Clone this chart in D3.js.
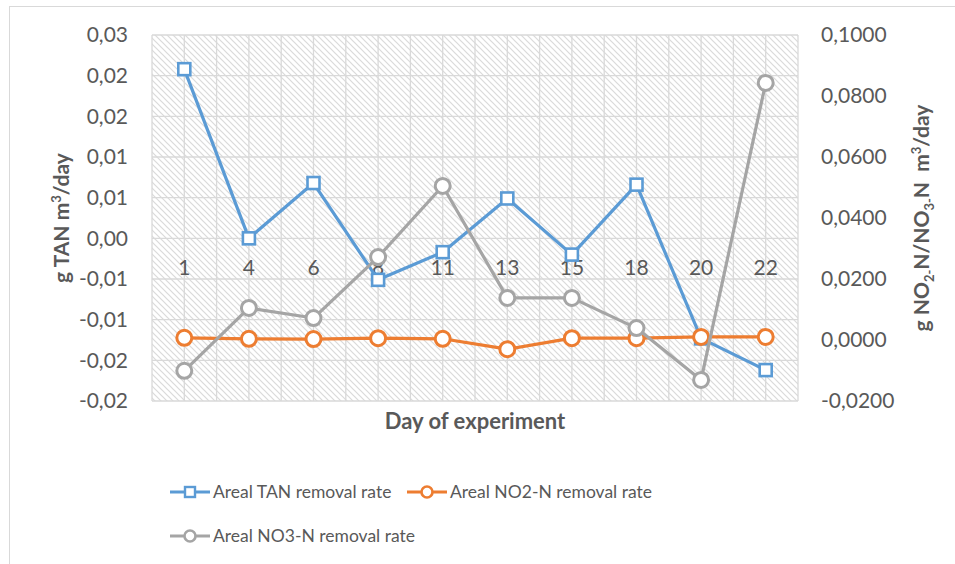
<!DOCTYPE html>
<html>
<head>
<meta charset="utf-8">
<script src="https://cdn.jsdelivr.net/npm/d3@7"></script>
<style>
  body { margin: 0; background: #fff; }
  text { font-family: Lato, "Open Sans", sans-serif; fill: #595959; }
</style>
</head>
<body>
<div id="chart"></div>
<script>
// data
var days = ["1", "4", "6", "8", "11", "13", "15", "18", "20", "22"];
var tanRate = [0.0208, 0.0000, 0.0068, -0.0051, -0.0017, 0.0049, -0.0020, 0.0066, -0.0123, -0.0162];
var no2Rate = [0.0007, 0.0004, 0.0003, 0.0006, 0.0004, -0.0030, 0.0006, 0.0006, 0.0010, 0.0010];
var no3Rate = [-0.0101, 0.0105, 0.0072, 0.0272, 0.0505, 0.0138, 0.0138, 0.0039, -0.0131, 0.0843];

var leftTicks = [-0.02, -0.015, -0.01, -0.005, 0, 0.005, 0.01, 0.015, 0.02, 0.025];
var leftTickLabels = ["-0,02", "-0,02", "-0,01", "-0,01", "0,00", "0,01", "0,01", "0,02", "0,02", "0,03"];
var rightTicks = [-0.02, 0, 0.02, 0.04, 0.06, 0.08, 0.1];
var rightTickLabels = ["-0,0200", "0,0000", "0,0200", "0,0400", "0,0600", "0,0800", "0,1000"];

var seriesNames = ["Areal TAN removal rate", "Areal NO2-N removal rate", "Areal NO3-N removal rate"];
var colors = ["#5B9BD5", "#ED7D31", "#A5A5A5"];

var W = 955, H = 564;
var plot = {left: 152, right: 798, top: 35, bottom: 401};

var svg = d3.select("#chart").append("svg")
  .attr("width", W)
  .attr("height", H);

// outer chart border (runs past the picture on right and bottom)
svg.append("rect")
  .attr("x", 9.5).attr("y", 6.5)
  .attr("width", 980).attr("height", 600)
  .attr("fill", "#fff")
  .attr("stroke", "#d9d9d9");

// hatch pattern for plot background
var defs = svg.append("defs");
var pat = defs.append("pattern")
  .attr("id", "hatch")
  .attr("patternUnits", "userSpaceOnUse")
  .attr("width", 6).attr("height", 6);
pat.append("rect").attr("width", 6).attr("height", 6).attr("fill", "#fff");
pat.append("path")
  .attr("d", "M-1,-1 L7,7 M-1,5 L1,7 M5,-1 L7,1")
  .attr("stroke", "#dadada")
  .attr("stroke-width", 1.2);

var x = d3.scaleBand().domain(days).range([plot.left, plot.right]).paddingInner(0).paddingOuter(0);
var yL = d3.scaleLinear().domain([-0.02, 0.025]).range([plot.bottom, plot.top]);
var yR = d3.scaleLinear().domain([-0.02, 0.1]).range([plot.bottom, plot.top]);
var cx = function (d) { return x(d) + x.bandwidth() / 2; };

svg.append("rect")
  .attr("x", plot.left).attr("y", plot.top)
  .attr("width", plot.right - plot.left).attr("height", plot.bottom - plot.top)
  .attr("fill", "url(#hatch)");

// vertical gridlines at band edges and band centres
var vLines = [];
days.forEach(function (d) {
  vLines.push(x(d));
  vLines.push(cx(d));
});
vLines.push(plot.right);

var grid = svg.append("g").attr("stroke", "#d9d9d9").attr("stroke-width", 1.3);
grid.selectAll(".vg").data(vLines).enter().append("line")
  .attr("x1", function (d) { return d; }).attr("x2", function (d) { return d; })
  .attr("y1", plot.top).attr("y2", plot.bottom);
grid.selectAll(".hg").data(leftTicks).enter().append("line")
  .attr("x1", plot.left).attr("x2", plot.right)
  .attr("y1", function (d) { return yL(d); }).attr("y2", function (d) { return yL(d); });

// left axis
var leftAxis = d3.axisLeft(yL).tickValues(leftTicks)
  .tickFormat(function (d, i) { return leftTickLabels[i]; })
  .tickSize(0).tickPadding(24);
var gl = svg.append("g").attr("transform", "translate(" + plot.left + ",0)").call(leftAxis);
gl.select(".domain").remove();
gl.selectAll("text").style("font-size", "21px").attr("fill", "#595959");

// right axis
var rightAxis = d3.axisRight(yR).tickValues(rightTicks)
  .tickFormat(function (d, i) { return rightTickLabels[i]; })
  .tickSize(0).tickPadding(23);
var gr = svg.append("g").attr("transform", "translate(" + plot.right + ",0)").call(rightAxis);
gr.select(".domain").remove();
gr.selectAll("text").style("font-size", "21px").attr("fill", "#595959");

// category labels sit a bit under the zero line
var bottomAxis = d3.axisBottom(x).tickSize(0).tickPadding(22);
var gb = svg.append("g").attr("transform", "translate(0," + yL(0) + ")").call(bottomAxis);
gb.select(".domain").remove();
gb.selectAll("text").style("font-size", "21px").attr("fill", "#595959");

// axis titles
svg.append("text")
  .attr("x", 475).attr("y", 429)
  .attr("text-anchor", "middle")
  .style("font-size", "22px").style("font-weight", "bold")
  .text("Day of experiment");

var lt = svg.append("text")
  .attr("transform", "translate(69,218) rotate(-90)")
  .attr("text-anchor", "middle")
  .style("font-size", "21px").style("font-weight", "bold")
  .style("white-space", "pre");
lt.append("tspan").text("g TAN m");
lt.append("tspan").attr("dy", -8).style("font-size", "13px").text("3");
lt.append("tspan").attr("dy", 8).text("/day");

var rt = svg.append("text")
  .attr("transform", "translate(929,218) rotate(-90)")
  .attr("text-anchor", "middle")
  .style("font-size", "21px").style("font-weight", "bold")
  .style("white-space", "pre");
rt.append("tspan").text("g NO");
rt.append("tspan").attr("dy", 5).style("font-size", "13px").text("2-");
rt.append("tspan").attr("dy", -5).text("N/NO");
rt.append("tspan").attr("dy", 5).style("font-size", "13px").text("3-");
rt.append("tspan").attr("dy", -5).text("N  m");
rt.append("tspan").attr("dy", -8).style("font-size", "13px").text("3");
rt.append("tspan").attr("dy", 8).text("/day");

// series
function drawSeries(values, scale, color, shape) {
  var pts = days.map(function (d, i) { return [cx(d), scale(values[i])]; });
  svg.append("path")
    .attr("d", d3.line()(pts))
    .attr("fill", "none")
    .attr("stroke", color)
    .attr("stroke-width", 3.2)
    .attr("stroke-linejoin", "round");
  if (shape == "square") {
    svg.selectAll(null).data(pts).enter().append("rect")
      .attr("x", function (p) { return p[0] - 6; })
      .attr("y", function (p) { return p[1] - 6; })
      .attr("width", 12).attr("height", 12)
      .attr("fill", "#fff").attr("stroke", color).attr("stroke-width", 2.6);
  } else {
    svg.selectAll(null).data(pts).enter().append("circle")
      .attr("cx", function (p) { return p[0]; })
      .attr("cy", function (p) { return p[1]; })
      .attr("r", 7.5)
      .attr("fill", "#fff").attr("stroke", color).attr("stroke-width", 3);
  }
}
drawSeries(tanRate, yL, colors[0], "square");
drawSeries(no2Rate, yR, colors[1], "circle");
drawSeries(no3Rate, yR, colors[2], "circle");

// legend
var legendItems = [
  {name: seriesNames[0], color: colors[0], shape: "square", x: 170, y: 492},
  {name: seriesNames[1], color: colors[1], shape: "circle", x: 407, y: 492},
  {name: seriesNames[2], color: colors[2], shape: "circle", x: 170, y: 536}
];
legendItems.forEach(function (it) {
  var g = svg.append("g").attr("transform", "translate(" + it.x + "," + it.y + ")");
  g.append("line").attr("x1", 0).attr("x2", 40).attr("y1", 0).attr("y2", 0)
    .attr("stroke", it.color).attr("stroke-width", 3.2);
  if (it.shape == "square") {
    g.append("rect").attr("x", 15).attr("y", -5).attr("width", 10).attr("height", 10)
      .attr("fill", "#fff").attr("stroke", it.color).attr("stroke-width", 2.4);
  } else {
    g.append("circle").attr("cx", 20).attr("cy", 0).attr("r", 5.5)
      .attr("fill", "#fff").attr("stroke", it.color).attr("stroke-width", 2.6);
  }
  g.append("text").attr("x", 43).attr("y", 6)
    .style("font-size", "17.5px")
    .text(it.name);
});
</script>
</body>
</html>
